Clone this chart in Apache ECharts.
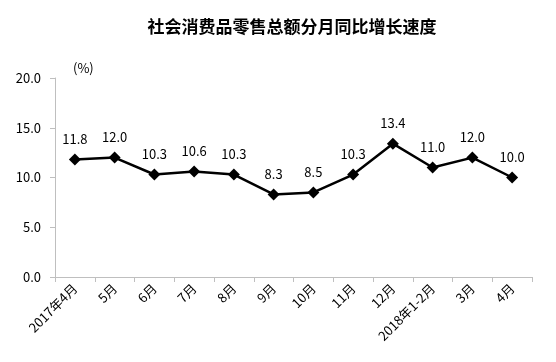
<!DOCTYPE html>
<html><head><meta charset="utf-8">
<script src="https://cdn.jsdelivr.net/npm/echarts@6/dist/echarts.min.js"></script>
<style>html,body{margin:0;padding:0;background:#fff}#c{width:556px;height:362px}</style>
</head><body><div id="c"></div>
<script>
const categories = ['2017年4月','5月','6月','7月','8月','9月','10月','11月','12月','2018年1-2月','3月','4月'];
const values = [11.8, 12.0, 10.3, 10.6, 10.3, 8.3, 8.5, 10.3, 13.4, 11.0, 12.0, 10.0];
const titleText = '社会消费品零售总额分月同比增长速度';
const unitText = '(%)';
const font = '"Noto Sans CJK SC", "Noto Sans", sans-serif';
const chart = echarts.init(document.getElementById('c'), null, {renderer:'canvas'});
chart.setOption({
  animation: false,
  backgroundColor: '#fff',
  title: {
    text: titleText, left: 287, top: 13, textAlign: 'center',
    textStyle: {fontFamily: font, fontSize: 17, fontWeight: 'bold', color: '#000'}
  },
  graphic: [{type:'text', left: 73, top: 62, style:{text: unitText, font: '13px ' + font, fill:'#000'}}],
  grid: {left: 55, right: 24, top: 78, bottom: 85},
  xAxis: {
    type: 'category', data: categories, boundaryGap: true,
    axisLine: {lineStyle: {color: '#bfbfbf', width: 1}},
    axisTick: {show: true, length: 5, lineStyle: {color: '#bfbfbf'}},
    axisLabel: {rotate: 45, fontFamily: font, fontSize: 13, color: '#000', margin: 9, interval: 0}
  },
  yAxis: {
    type: 'value', min: 0, max: 20, interval: 5,
    axisLine: {show: true, lineStyle: {color: '#bfbfbf', width: 1}},
    axisTick: {show: true, length: 5, lineStyle: {color: '#bfbfbf'}},
    splitLine: {show: false},
    axisLabel: {formatter: v => v.toFixed(1), fontFamily: font, fontSize: 13, color: '#000', margin: 14}
  },
  series: [{
    type: 'line', data: values,
    symbol: 'diamond', symbolSize: 12,
    lineStyle: {color: '#000', width: 2.5},
    itemStyle: {color: '#000'},
    label: {show: true, position: 'top', distance: 8, formatter: p => p.value.toFixed(1),
      fontFamily: font, fontSize: 13, color: '#000'}
  }]
});
</script></body></html>
